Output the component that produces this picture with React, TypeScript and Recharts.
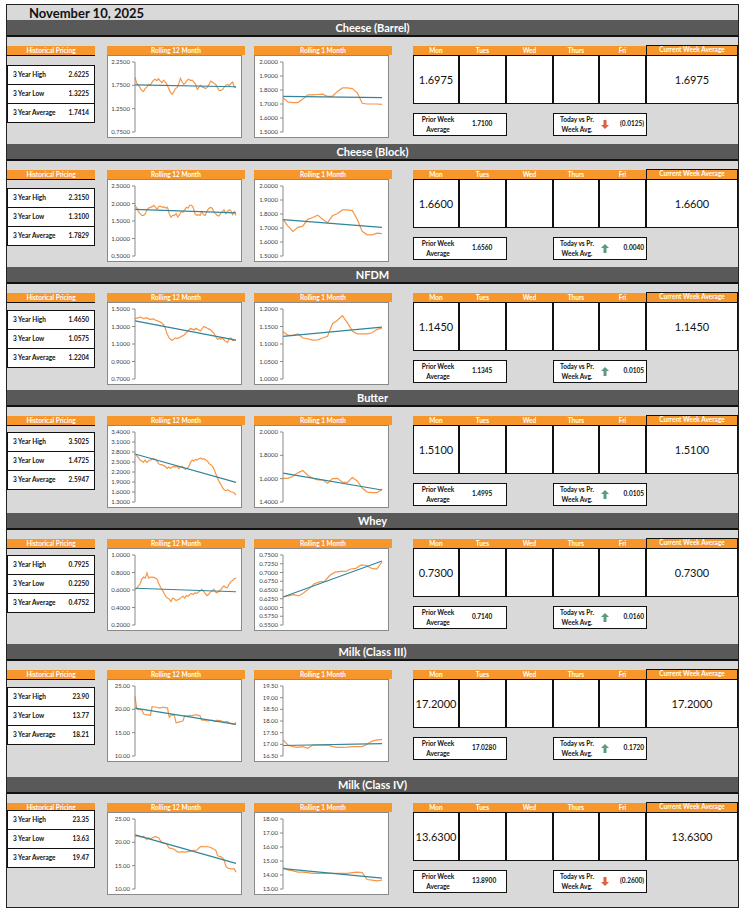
import React from "react";
import { LineChart, Line, XAxis, YAxis } from "recharts";

const FONT = "Lato, 'Open Sans', sans-serif";
const ORANGE = "#f7962a";
const LINE_ORANGE = "#f79646";
const TREND = "#31849b";

const reportDate = "November 10, 2025";
const dayLabels = ["Mon", "Tues", "Wed", "Thurs", "Fri"];
const statLabels = ["3 Year High", "3 Year Low", "3 Year Average"];

// Cheese (Barrel)
const barrelStats = [2.6225, 1.3225, 1.7414];
const barrelWeek = [1.6975, null, null, null, null];
const barrelCurrent = 1.6975;
const barrelPrior = 1.71;
const barrelChange = -0.0125;
const barrel12m = [1.92, 1.8, 1.75, 1.7, 1.64, 1.62, 1.68, 1.71, 1.77, 1.75, 1.81, 1.86, 1.88, 1.85, 1.89, 1.84, 1.81, 1.86, 1.82, 1.77, 1.68, 1.6, 1.56, 1.61, 1.68, 1.7, 1.79, 1.9, 1.82, 1.77, 1.81, 1.86, 1.88, 1.85, 1.86, 1.82, 1.77, 1.66, 1.71, 1.75, 1.71, 1.7, 1.68, 1.71, 1.77, 1.84, 1.82, 1.79, 1.77, 1.7, 1.64, 1.64, 1.66, 1.71, 1.75, 1.77, 1.74, 1.79, 1.82, 1.71, 1.7];
const barrel12mTrend = [1.76, 1.72];
const barrel12mTicks = [0.75, 1.25, 1.75, 2.25];
const barrel1m = [1.745, 1.715, 1.71, 1.71, 1.735, 1.765, 1.765, 1.768, 1.77, 1.755, 1.755, 1.79, 1.815, 1.815, 1.81, 1.78, 1.705, 1.7, 1.7, 1.7, 1.6975];
const barrel1mTrend = [1.755, 1.745];
const barrel1mTicks = [1.5, 1.6, 1.7, 1.8, 1.9, 2.0];

// Cheese (Block)
const blockStats = [2.315, 1.31, 1.7829];
const blockWeek = [1.66, null, null, null, null];
const blockCurrent = 1.66;
const blockPrior = 1.656;
const blockChange = 0.004;
const block12m = [1.95, 1.87, 1.77, 1.71, 1.66, 1.66, 1.71, 1.82, 1.87, 1.89, 1.91, 1.95, 1.89, 1.84, 1.92, 1.92, 1.89, 1.9, 1.87, 1.89, 1.71, 1.61, 1.66, 1.66, 1.71, 1.61, 1.68, 1.77, 1.75, 1.82, 1.89, 1.87, 1.95, 1.95, 1.89, 1.71, 1.66, 1.68, 1.66, 1.77, 1.68, 1.66, 1.77, 1.85, 1.89, 1.87, 1.77, 1.71, 1.66, 1.64, 1.71, 1.77, 1.82, 1.71, 1.77, 1.82, 1.79, 1.68, 1.77, 1.66];
const block12mTrend = [1.83, 1.73];
const block12mTicks = [0.5, 1.0, 1.5, 2.0, 2.5];
const block1m = [1.762, 1.713, 1.676, 1.705, 1.713, 1.762, 1.775, 1.792, 1.762, 1.738, 1.787, 1.804, 1.829, 1.829, 1.824, 1.762, 1.676, 1.651, 1.651, 1.663, 1.66];
const block1mTrend = [1.76, 1.705];
const block1mTicks = [1.5, 1.6, 1.7, 1.8, 1.9, 2.0];

// NFDM
const nfdmStats = [1.465, 1.0575, 1.2204];
const nfdmWeek = [1.145, null, null, null, null];
const nfdmCurrent = 1.145;
const nfdmPrior = 1.1345;
const nfdmChange = 0.0105;
const nfdm12m = [1.39, 1.395, 1.398, 1.41, 1.4, 1.39, 1.395, 1.398, 1.39, 1.38, 1.385, 1.386, 1.375, 1.367, 1.36, 1.35, 1.34, 1.32, 1.28, 1.22, 1.18, 1.155, 1.143, 1.155, 1.17, 1.163, 1.17, 1.18, 1.19, 1.2, 1.22, 1.24, 1.26, 1.28, 1.27, 1.26, 1.28, 1.27, 1.26, 1.25, 1.28, 1.3, 1.29, 1.28, 1.27, 1.26, 1.24, 1.22, 1.18, 1.155, 1.163, 1.155, 1.17, 1.143, 1.13, 1.116, 1.163, 1.17, 1.14, 1.143, 1.145];
const nfdm12mTrend = [1.365, 1.145];
const nfdm12mTicks = [0.7, 0.9, 1.1, 1.3, 1.5];
const nfdm1m = [1.135, 1.125, 1.125, 1.129, 1.117, 1.115, 1.111, 1.112, 1.117, 1.122, 1.158, 1.168, 1.181, 1.161, 1.137, 1.129, 1.129, 1.129, 1.132, 1.142, 1.145];
const nfdm1mTrend = [1.122, 1.148];
const nfdm1mTicks = [1.0, 1.05, 1.1, 1.15, 1.2];

// Butter
const butterStats = [3.5025, 1.4725, 2.5947];
const butterWeek = [1.51, null, null, null, null];
const butterCurrent = 1.51;
const butterPrior = 1.4995;
const butterChange = 0.0105;
const butter12m = [2.74, 2.69, 2.63, 2.56, 2.53, 2.49, 2.56, 2.49, 2.53, 2.56, 2.58, 2.6, 2.58, 2.53, 2.45, 2.42, 2.42, 2.39, 2.37, 2.31, 2.35, 2.31, 2.35, 2.37, 2.35, 2.37, 2.31, 2.35, 2.37, 2.31, 2.28, 2.31, 2.37, 2.49, 2.56, 2.53, 2.58, 2.56, 2.6, 2.62, 2.58, 2.6, 2.56, 2.53, 2.45, 2.42, 2.37, 2.28, 2.15, 2.02, 1.91, 1.83, 1.73, 1.67, 1.64, 1.67, 1.64, 1.6, 1.6, 1.57, 1.51];
const butter12mTrend = [2.74, 1.89];
const butter12mTicks = [1.3, 1.6, 1.9, 2.2, 2.5, 2.8, 3.1, 3.4];
const butter1m = [1.603, 1.603, 1.62, 1.65, 1.67, 1.63, 1.603, 1.59, 1.59, 1.56, 1.6, 1.603, 1.57, 1.568, 1.61, 1.58, 1.52, 1.485, 1.48, 1.48, 1.51];
const butter1mTrend = [1.647, 1.503];
const butter1mTicks = [1.4, 1.6, 1.8, 2.0];

// Whey
const wheyStats = [0.7925, 0.225, 0.4752];
const wheyWeek = [0.73, null, null, null, null];
const wheyCurrent = 0.73;
const wheyPrior = 0.714;
const wheyChange = 0.016;
const whey12m = [0.608, 0.616, 0.648, 0.668, 0.728, 0.748, 0.736, 0.796, 0.736, 0.748, 0.748, 0.744, 0.736, 0.72, 0.668, 0.628, 0.6, 0.56, 0.528, 0.508, 0.496, 0.468, 0.508, 0.496, 0.48, 0.488, 0.496, 0.516, 0.528, 0.508, 0.536, 0.528, 0.548, 0.56, 0.548, 0.568, 0.56, 0.576, 0.588, 0.608, 0.588, 0.56, 0.536, 0.548, 0.576, 0.588, 0.608, 0.576, 0.568, 0.588, 0.6, 0.628, 0.648, 0.628, 0.628, 0.668, 0.696, 0.708, 0.728, 0.736];
const whey12mTrend = [0.62, 0.58];
const whey12mTicks = [0.2, 0.4, 0.6, 0.8, 1.0];
const whey1m = [0.63, 0.633, 0.637, 0.633, 0.642, 0.654, 0.668, 0.673, 0.675, 0.692, 0.701, 0.703, 0.703, 0.71, 0.712, 0.722, 0.72, 0.712, 0.71, 0.73];
const whey1mTrend = [0.63, 0.733];
const whey1mTicks = [0.55, 0.575, 0.6, 0.625, 0.65, 0.675, 0.7, 0.725, 0.75];

// Milk (Class III)
const class3Stats = [23.9, 13.77, 18.21];
const class3Week = [17.2, null, null, null, null];
const class3Current = 17.2;
const class3Prior = 17.028;
const class3Change = 0.172;
const class312m = [22.8, 20.1, 19.95, 19.95, 19.9, 19.0, 18.9, 18.8, 18.8, 18.7, 20.6, 20.5, 20.5, 20.4, 20.3, 20.3, 20.4, 20.4, 20.3, 20.3, 18.3, 18.7, 18.8, 18.7, 17.1, 17.2, 17.3, 17.4, 17.5, 18.6, 18.6, 18.6, 18.7, 18.6, 18.7, 18.8, 18.8, 18.7, 18.6, 17.7, 17.7, 17.6, 17.5, 17.5, 17.6, 17.7, 17.5, 17.4, 17.7, 17.6, 17.6, 17.4, 17.3, 17.3, 17.4, 17.1, 17.0, 16.9, 16.8, 17.2];
const class312mTrend = [20.25, 16.76];
const class312mTicks = [10, 15, 20, 25];
const class31m = [17.19, 16.97, 16.9, 16.87, 16.9, 16.83, 16.97, 16.97, 16.97, 16.97, 16.9, 16.87, 16.87, 16.88, 16.9, 16.9, 16.9, 17.0, 17.14, 17.19, 17.2];
const class31mTrend = [16.95, 17.03];
const class31mTicks = [16.5, 17, 17.5, 18, 18.5, 19, 19.5];

// Milk (Class IV)
const class4Stats = [23.35, 13.63, 19.47];
const class4Week = [13.63, null, null, null, null];
const class4Current = 13.63;
const class4Prior = 13.89;
const class4Change = -0.26;
const class412m = [21.3, 21.4, 21.3, 21.2, 21.1, 21.3, 21.0, 20.6, 21.0, 20.8, 20.9, 21.1, 21.2, 21.1, 21.0, 20.4, 19.9, 19.8, 19.8, 19.6, 18.9, 18.7, 18.7, 18.5, 18.3, 18.0, 17.9, 17.9, 18.0, 17.9, 17.9, 18.0, 18.0, 18.1, 18.2, 18.3, 18.3, 18.4, 18.8, 19.1, 19.1, 19.1, 19.0, 19.1, 19.0, 18.9, 18.7, 18.5, 18.3, 17.2, 17.0, 16.9, 16.7, 16.1, 14.9, 14.5, 14.4, 14.3, 14.3, 14.3, 13.6];
const class412mTrend = [21.6, 15.5];
const class412mTicks = [10, 15, 20, 25];
const class41m = [14.53, 14.36, 14.29, 14.21, 14.21, 14.17, 14.12, 14.12, 14.12, 14.12, 14.12, 14.12, 14.12, 14.12, 14.17, 14.21, 14.17, 13.68, 13.63, 13.58, 13.63];
const class41mTrend = [14.46, 13.78];
const class41mTicks = [13, 14, 15, 16, 17, 18];

const sections = [
  { name: "Cheese (Barrel)", stats: barrelStats, statDec: 4, tickDec: 4, week: barrelWeek, current: barrelCurrent, prior: barrelPrior, change: barrelChange, r12: barrel12m, r12Trend: barrel12mTrend, r12Ticks: barrel12mTicks, r1: barrel1m, r1Trend: barrel1mTrend, r1Ticks: barrel1mTicks },
  { name: "Cheese (Block)", stats: blockStats, statDec: 4, tickDec: 4, week: blockWeek, current: blockCurrent, prior: blockPrior, change: blockChange, r12: block12m, r12Trend: block12mTrend, r12Ticks: block12mTicks, r1: block1m, r1Trend: block1mTrend, r1Ticks: block1mTicks },
  { name: "NFDM", stats: nfdmStats, statDec: 4, tickDec: 4, week: nfdmWeek, current: nfdmCurrent, prior: nfdmPrior, change: nfdmChange, r12: nfdm12m, r12Trend: nfdm12mTrend, r12Ticks: nfdm12mTicks, r1: nfdm1m, r1Trend: nfdm1mTrend, r1Ticks: nfdm1mTicks },
  { name: "Butter", stats: butterStats, statDec: 4, tickDec: 4, week: butterWeek, current: butterCurrent, prior: butterPrior, change: butterChange, r12: butter12m, r12Trend: butter12mTrend, r12Ticks: butter12mTicks, r1: butter1m, r1Trend: butter1mTrend, r1Ticks: butter1mTicks },
  { name: "Whey", stats: wheyStats, statDec: 4, tickDec: 4, week: wheyWeek, current: wheyCurrent, prior: wheyPrior, change: wheyChange, r12: whey12m, r12Trend: whey12mTrend, r12Ticks: whey12mTicks, r1: whey1m, r1Trend: whey1mTrend, r1Ticks: whey1mTicks },
  { name: "Milk (Class III)", stats: class3Stats, statDec: 2, tickDec: 2, week: class3Week, current: class3Current, prior: class3Prior, change: class3Change, r12: class312m, r12Trend: class312mTrend, r12Ticks: class312mTicks, r1: class31m, r1Trend: class31mTrend, r1Ticks: class31mTicks },
  { name: "Milk (Class IV)", stats: class4Stats, statDec: 2, tickDec: 2, week: class4Week, current: class4Current, prior: class4Prior, change: class4Change, r12: class412m, r12Trend: class412mTrend, r12Ticks: class412mTicks, r1: class41m, r1Trend: class41mTrend, r1Ticks: class41mTicks },
];

// layout
const sectionTops = [20, 144, 267, 390, 513, 644, 777];
const tableTops = [65, 188, 310, 432, 555, 687, 810];
const dayCols = [413, 459, 506, 553, 599, 646, 737];

const abs = (left: number, top: number, width: number, height: number, extra: any = {}) => ({
  position: "absolute" as const,
  left,
  top,
  width,
  height,
  boxSizing: "border-box" as const,
  ...extra,
});

function MiniChart({ x, y, values, trend, ticks, decimals, axisW, padR }: any) {
  const w = 135;
  const h = 83;
  const n = values.length;
  const data = values.map((v: number, i: number) => ({
    i,
    v,
    t: i === 0 ? trend[0] : i === n - 1 ? trend[1] : null,
  }));
  return (
    <div style={abs(x, y, w, h, { background: "#fff", border: "1px solid #8a8a8a" })}>
      <LineChart width={w - 2} height={h - 2} data={data} margin={{ top: 6, right: padR, bottom: 5, left: 0 }}>
        <XAxis dataKey="i" type="number" domain={[0, n - 1]} hide />
        <YAxis
          type="number"
          domain={[ticks[0], ticks[ticks.length - 1]]}
          ticks={ticks}
          interval={0}
          allowDataOverflow
          width={axisW}
          tickSize={3}
          tickMargin={2}
          stroke="#8a8a8a"
          tick={{ fontSize: 6, fill: "#404040" }}
          tickFormatter={(v: number) => v.toFixed(decimals)}
        />
        <Line type="linear" dataKey="v" stroke={LINE_ORANGE} strokeWidth={1.2} dot={false} isAnimationActive={false} />
        <Line type="linear" dataKey="t" stroke={TREND} strokeWidth={1.2} dot={false} connectNulls isAnimationActive={false} />
      </LineChart>
    </div>
  );
}

function Arrow({ up, x, y }: { up: boolean; x: number; y: number }) {
  return (
    <svg style={{ position: "absolute", left: x, top: y }} width={8} height={9} viewBox="0 0 8 9">
      {up ? (
        <polygon points="4,0 8,4 5.5,4 5.5,9 2.5,9 2.5,4 0,4" fill="#5a9c80" />
      ) : (
        <polygon points="2.5,0 5.5,0 5.5,5 8,5 4,9 0,5 2.5,5" fill="#e0603e" />
      )}
    </svg>
  );
}

const fmtChange = (v: number) => (v < 0 ? `(${Math.abs(v).toFixed(4)})` : v.toFixed(4));

function Section({ s, top, tableTop }: any) {
  const hTop = top + 26;
  const bodyTop = top + 35;
  const boxTop = top + 93;
  const head = { color: "#fff", fontWeight: 700, fontSize: 6.5, lineHeight: "9px", textAlign: "center" as const, whiteSpace: "nowrap" as const, overflow: "hidden" };
  return (
    <>
      <div style={abs(7, top, 731, 17, { background: "#595959", borderBottom: "2px solid #111", color: "#fff", fontWeight: 700, fontSize: 11, lineHeight: "15px", textAlign: "center" })}>
        {s.name}
      </div>

      {/* historical pricing */}
      <div style={abs(7, hTop, 88, 10, { background: ORANGE, borderBottom: "1.5px solid #111", ...head })}>Historical Pricing</div>
      {statLabels.map((lab, k) => (
        <div key={lab} style={abs(7, tableTop + k * 19, 88, 20, { background: "#fff", border: "1.5px solid #111", fontWeight: 700, fontSize: 6.5, color: "#111" })}>
          <span style={{ position: "absolute", left: 5, top: 5 }}>{lab}</span>
          <span style={{ position: "absolute", right: 5, top: 5 }}>{s.stats[k].toFixed(s.statDec)}</span>
        </div>
      ))}

      {/* charts */}
      <div style={abs(107, hTop, 138, 9, { background: ORANGE, ...head })}>Rolling 12 Month</div>
      <MiniChart x={107} y={bodyTop} values={s.r12} trend={s.r12Trend} ticks={s.r12Ticks} decimals={s.tickDec} axisW={27} padR={5} />
      <div style={abs(254, hTop, 138, 9, { background: ORANGE, ...head })}>Rolling 1 Month</div>
      <MiniChart x={254} y={bodyTop} values={s.r1} trend={s.r1Trend} ticks={s.r1Ticks} decimals={s.tickDec} axisW={28} padR={6} />

      {/* week table */}
      <div style={abs(413, hTop, 324, 9, { background: ORANGE })} />
      {dayLabels.map((d, k) => (
        <div key={d} style={abs(dayCols[k], hTop, dayCols[k + 1] - dayCols[k], 9, head)}>{d}</div>
      ))}
      <div style={abs(646, hTop - 1, 92, 11, { border: "1.5px solid #111", ...head, lineHeight: "8px" })}>Current Week Average</div>
      <div style={abs(413, bodyTop, 325, 49, { background: "#fff", border: "1.5px solid #111" })} />
      {dayCols.slice(1, 6).map((c) => (
        <div key={c} style={abs(c - 0.75, bodyTop, 1.5, 49, { background: "#111" })} />
      ))}
      {s.week.map((v: number | null, k: number) =>
        v === null ? null : (
          <div key={k} style={abs(dayCols[k], bodyTop, dayCols[k + 1] - dayCols[k], 49, { fontSize: 11, lineHeight: "49px", textAlign: "center", color: "#111" })}>
            {v.toFixed(4)}
          </div>
        )
      )}
      <div style={abs(646, bodyTop, 92, 49, { fontSize: 11, lineHeight: "49px", textAlign: "center", color: "#111" })}>{s.current.toFixed(4)}</div>

      {/* prior / change boxes */}
      <div style={abs(413, boxTop, 94, 23, { background: "#fff", border: "1.5px solid #111", fontWeight: 700, fontSize: 6.5, color: "#111" })}>
        <div style={{ position: "absolute", left: 4, top: 1, width: 40, textAlign: "center", lineHeight: "10px" }}>
          Prior Week
          <br />
          Average
        </div>
        <div style={{ position: "absolute", left: 58, top: 6 }}>{s.prior.toFixed(4)}</div>
      </div>
      <div style={abs(553, boxTop, 94, 23, { background: "#fff", border: "1.5px solid #111", fontWeight: 700, fontSize: 6.5, color: "#111" })}>
        <div style={{ position: "absolute", left: 3, top: 1, width: 40, textAlign: "center", lineHeight: "10px" }}>
          Today vs Pr.
          <br />
          Week Avg.
        </div>
        <Arrow up={s.change >= 0} x={47} y={6} />
        <div style={{ position: "absolute", right: 2, top: 6 }}>{fmtChange(s.change)}</div>
      </div>
    </>
  );
}

export default function App() {
  return (
    <div style={{ position: "absolute", left: 0, top: 0, width: 745, height: 913, background: "#fff", fontFamily: FONT, overflow: "hidden" }}>
      <div style={abs(6, 4, 733, 904, { background: "#d9d9d9", border: "1px solid #222" })} />
      <div style={{ position: "absolute", left: 29, top: 4, fontSize: 13, fontWeight: 700, color: "#111", lineHeight: "18px" }}>{reportDate}</div>
      {sections.map((s, k) => (
        <Section key={s.name} s={s} top={sectionTops[k]} tableTop={tableTops[k]} />
      ))}
    </div>
  );
}
